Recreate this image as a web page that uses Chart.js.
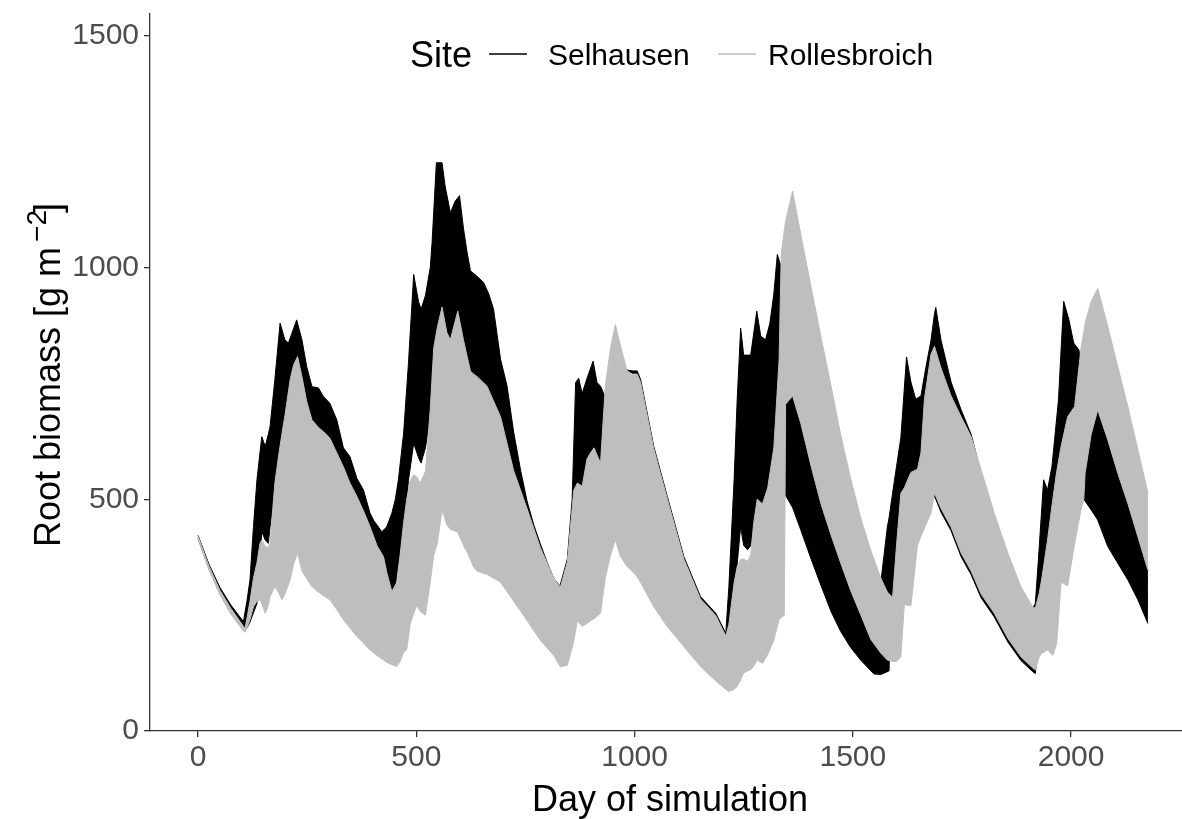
<!DOCTYPE html>
<html>
<head>
<meta charset="utf-8">
<title>Root biomass by site</title>
<script src="https://cdn.jsdelivr.net/npm/chart.js@4/dist/chart.umd.min.js"></script>
<style>
  html, body { margin: 0; padding: 0; background: #ffffff; }
  canvas { display: block; }
</style>
</head>
<body>
<canvas id="chart" width="1182" height="819"></canvas>
<script>
// Axis ticks
const xTicks = [0, 500, 1000, 1500, 2000];
const yTicks = [0, 500, 1000, 1500];

// Legend entries
const siteTitle = 'Site';
const siteNames = ['Selhausen', 'Rollesbroich'];

// Selhausen: envelope of simulated root biomass (g m-2) per simulation day
const selDay = [0,25,50,75,104,112,119,127,135,146,154,161,165,176,188,199,207,215,226,238,249,261,276,287,302,318,333,348,364,379,394,402,421,432,444,452,459,471,482,494,505,511,521,532,536,546,559,566,578,589,599,608,616,624,639,654,666,677,693,708,723,739,754,769,784,800,815,829,846,857,865,872,880,891,905,914,922,933,953,975,995,1006,1014,1044,1075,1113,1151,1186,1209,1216,1228,1235,1243,1250,1259,1266,1280,1289,1300,1310,1319,1327,1333,1336,1343,1362,1381,1404,1427,1450,1472,1495,1518,1541,1549,1564,1579,1583,1586,1591,1600,1610,1623,1633,1644,1656,1667,1679,1687,1690,1702,1725,1748,1771,1794,1824,1855,1885,1912,1918,1925,1937,1946,1956,1971,1979,1983,1995,2006,2018,2023,2030,2051,2061,2084,2107,2130,2153,2176];
const selHigh = [422,360,310,272,236,280,326,441,542,635,614,640,657,758,880,844,837,858,887,844,786,743,740,722,707,671,611,592,545,520,470,455,430,440,470,500,542,643,793,985,927,910,940,1000,1052,1226,1226,1176,1118,1143,1155,1085,1035,993,981,968,943,910,802,744,645,562,495,445,404,363,329,313,371,500,752,761,728,761,798,752,744,720,860,780,777,777,758,614,506,376,290,254,211,311,542,714,869,811,811,811,906,852,844,880,943,1028,1010,1000,715,723,663,573,490,423,363,303,251,198,190,320,440,460,480,513,570,633,807,753,716,723,783,843,900,914,843,753,693,640,555,460,375,300,265,275,369,542,520,570,714,858,927,887,837,822,780,620,660,693,628,556,491,419,347];
const selLow = [416,350,298,258,224,222,235,255,275,430,412,405,440,520,580,660,730,770,790,745,690,650,635,626,612,580,550,515,486,455,421,395,350,320,298,310,360,430,540,621,590,578,611,680,780,850,895,840,825,860,875,825,790,760,745,735,725,710,668,620,555,515,472,430,390,352,322,306,355,470,525,530,520,575,600,580,570,560,600,600,600,600,590,550,450,330,250,220,200,225,315,360,441,400,391,400,490,470,505,520,540,525,520,515,513,482,433,372,314,258,215,180,153,130,123,122,128,130,281,281,390,500,530,548,545,540,530,520,505,500,472,432,376,337,287,246,192,152,128,124,200,300,330,350,400,450,470,490,500,510,505,499,470,455,398,362,326,283,232];

// Rollesbroich: envelope of simulated root biomass (g m-2) per simulation day
const rolDay = [0,25,50,75,104,108,119,127,135,142,146,154,161,165,176,184,192,199,211,219,228,238,249,261,276,287,302,318,333,348,364,379,394,410,425,433,444,455,463,471,478,486,494,501,509,521,532,540,548,559,570,578,595,608,616,624,631,639,662,693,723,754,784,815,830,846,857,861,869,880,891,899,907,922,933,945,956,968,983,995,1006,1014,1044,1075,1113,1151,1186,1209,1216,1228,1235,1243,1250,1259,1266,1273,1281,1293,1305,1319,1331,1336,1343,1346,1362,1381,1404,1427,1450,1472,1495,1518,1541,1564,1579,1591,1600,1610,1618,1633,1648,1656,1664,1679,1687,1702,1725,1748,1771,1794,1824,1855,1885,1912,1918,1927,1933,1946,1958,1967,1977,1992,2008,2023,2029,2032,2046,2061,2084,2107,2130,2153,2176];
const rolHigh = [420,356,304,265,226,222,280,330,363,405,412,398,396,405,535,590,640,680,758,790,808,765,711,671,655,646,632,600,570,535,506,475,441,400,376,340,301,320,380,450,500,540,553,548,535,560,695,827,870,915,860,844,906,844,810,777,770,765,744,678,562,479,396,329,310,365,479,520,535,528,587,600,611,578,744,827,877,830,777,770,770,752,609,501,371,285,249,205,230,320,354,370,371,366,380,450,500,490,525,611,800,1030,1080,1100,1165,1070,960,850,745,640,545,460,390,330,300,288,400,513,525,558,565,600,716,813,830,783,723,678,635,563,470,384,311,268,265,297,330,412,500,560,614,678,700,829,860,880,927,955,873,786,700,607,513];
const rolLow = [414,348,294,252,216,213,240,268,280,283,275,254,270,290,311,300,283,295,326,360,384,345,329,311,300,292,283,262,240,222,204,190,175,163,153,148,143,139,150,170,175,230,254,271,258,250,321,380,404,477,445,435,429,400,387,370,354,345,338,321,280,238,196,163,138,142,180,196,238,226,232,238,242,254,330,380,412,376,355,344,333,320,268,225,182,139,108,90,85,90,96,110,125,130,132,140,153,146,165,196,240,245,250,705,723,663,573,490,423,363,303,251,198,168,153,150,150,160,273,270,400,420,438,470,513,480,440,384,345,295,254,200,160,136,132,160,168,175,163,189,321,313,404,479,499,556,640,693,628,556,491,419,347];

const FONT = '"Liberation Sans", Arial, Helvetica, sans-serif';
const SEL_COLOR = '#000000';
const ROL_COLOR = '#BEBEBE';
const TEXT_GREY = '#4D4D4D';
const AXIS_COLOR = '#333333';

function toPoints(days, values) {
  return days.map((d, i) => ({ x: d, y: values[i] }));
}

// Axis titles (y title carries a superscript exponent)
const axisTitles = {
  id: 'axisTitles',
  afterDraw(chart) {
    const ctx = chart.ctx;
    ctx.save();
    ctx.fillStyle = '#000000';
    ctx.textBaseline = 'alphabetic';

    ctx.font = '36px ' + FONT;
    ctx.textAlign = 'center';
    ctx.fillText('Day of simulation', 670, 811);

    const main = 'Root biomass [g m';
    const sup = '\u22122';
    const close = ']';
    ctx.textAlign = 'left';
    ctx.font = '36px ' + FONT;
    const wMain = ctx.measureText(main).width;
    const wClose = ctx.measureText(close).width;
    ctx.font = '28px ' + FONT;
    const wSup = ctx.measureText(sup).width;
    const gap = 5, overlap = 3;
    const total = wMain + gap + wSup - overlap + wClose;
    const centre = 375;
    ctx.translate(60, centre + total / 2);
    ctx.rotate(-Math.PI / 2);
    ctx.font = '36px ' + FONT;
    ctx.fillText(main, 0, 0);
    ctx.font = '28px ' + FONT;
    ctx.fillText(sup, wMain + gap, -14);
    ctx.font = '36px ' + FONT;
    ctx.fillText(close, wMain + gap + wSup - overlap, 0);
    ctx.restore();
  }
};

// Horizontal legend at the top: title followed by line keys
const siteLegend = {
  id: 'siteLegend',
  afterDraw(chart) {
    const ctx = chart.ctx;
    const keyY = 54;
    const keys = [
      { name: siteNames[0], color: SEL_COLOR, keyX: 489, textX: 548 },
      { name: siteNames[1], color: ROL_COLOR, keyX: 718, textX: 768 }
    ];
    ctx.save();
    ctx.textAlign = 'left';
    ctx.textBaseline = 'alphabetic';
    ctx.fillStyle = '#000000';
    ctx.font = '36px ' + FONT;
    ctx.fillText(siteTitle, 410, 67);
    ctx.font = '30px ' + FONT;
    keys.forEach(k => {
      ctx.strokeStyle = k.color;
      ctx.lineWidth = 1.6;
      ctx.beginPath();
      ctx.moveTo(k.keyX, keyY);
      ctx.lineTo(k.keyX + 38, keyY);
      ctx.stroke();
      ctx.fillStyle = '#000000';
      ctx.fillText(k.name, k.textX, 65);
    });
    ctx.restore();
  }
};

const bandStyle = (color) => ({
  borderColor: color,
  backgroundColor: color,
  borderWidth: 1,
  pointRadius: 0,
  tension: 0
});

const plainNumber = (v) => String(v);

new Chart(document.getElementById('chart'), {
  type: 'line',
  data: {
    datasets: [
      // Rollesbroich is listed first so its band is painted over Selhausen
      Object.assign({ label: siteNames[1], data: toPoints(rolDay, rolHigh), fill: false }, bandStyle(ROL_COLOR)),
      Object.assign({ label: siteNames[1] + ' min', data: toPoints(rolDay, rolLow), fill: '-1' }, bandStyle(ROL_COLOR)),
      Object.assign({ label: siteNames[0], data: toPoints(selDay, selHigh), fill: false }, bandStyle(SEL_COLOR)),
      Object.assign({ label: siteNames[0] + ' min', data: toPoints(selDay, selLow), fill: '-1' }, bandStyle(SEL_COLOR))
    ]
  },
  options: {
    responsive: false,
    animation: false,
    devicePixelRatio: 1,
    layout: { padding: { top: 14, right: 0, bottom: 0, left: 0 } },
    plugins: {
      legend: { display: false },
      tooltip: { enabled: false },
      filler: { propagate: false }
    },
    scales: {
      x: {
        type: 'linear',
        min: -110,
        max: 2254,
        afterBuildTicks: (s) => { s.ticks = xTicks.map(v => ({ value: v })); },
        afterFit: (s) => { s.height = 88; s.paddingLeft = 0; s.paddingRight = 0; },
        grid: { drawOnChartArea: false, drawTicks: true, tickLength: 6, color: AXIS_COLOR, lineWidth: 1.3 },
        border: { display: true, color: AXIS_COLOR, width: 1.3 },
        ticks: { font: { family: FONT, size: 30 }, color: TEXT_GREY, padding: 3, maxRotation: 0, autoSkip: false, callback: plainNumber }
      },
      y: {
        type: 'linear',
        min: 0,
        max: 1547,
        afterBuildTicks: (s) => { s.ticks = yTicks.map(v => ({ value: v })); },
        afterFit: (s) => { s.width = 150; s.paddingTop = 0; s.paddingBottom = 0; },
        grid: { drawOnChartArea: false, drawTicks: true, tickLength: 6, color: AXIS_COLOR, lineWidth: 1.3 },
        border: { display: true, color: AXIS_COLOR, width: 1.3 },
        ticks: { font: { family: FONT, size: 30 }, color: TEXT_GREY, padding: 5, autoSkip: false, callback: plainNumber }
      }
    }
  },
  plugins: [axisTitles, siteLegend]
});
</script>
</body>
</html>
